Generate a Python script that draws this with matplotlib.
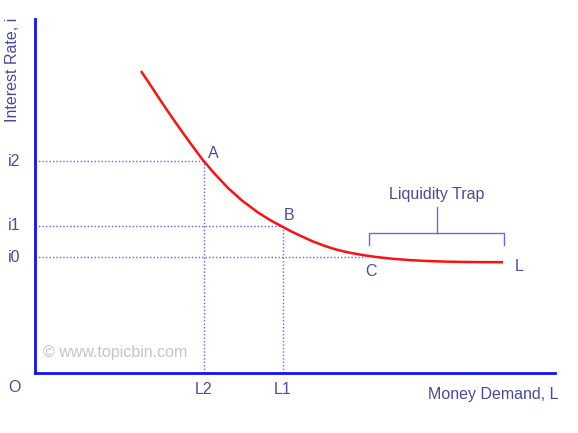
import matplotlib
matplotlib.use("Agg")
import matplotlib.pyplot as plt

plt.rcParams['font.family'] = ['Liberation Sans', 'DejaVu Sans']

# Money demand curve (x: money demand, y: interest rate)
curve_x = [106, 117, 127, 137, 147, 157, 168, 180, 193, 207, 223, 235, 247, 257,
           267, 278, 290, 300, 310, 320, 330, 342, 358, 375, 392, 410, 425, 445, 468]
curve_y = [302, 285.5, 270.3, 255.6, 241.4, 227.6, 212.8, 198.8, 185, 172.5, 160.5,
           153, 146.5, 141.2, 136.5, 131.5, 127, 123.8, 121.3, 119.3, 117.6, 115.9,
           114.2, 112.9, 112.0, 111.4, 111.1, 110.9, 110.8]

# Key levels
rate_labels = ["i2", "i1", "i0"]
rate_values = [212, 147, 116]
demand_labels = ["L2", "L1"]
demand_values = [169, 248]
point_labels = ["A", "B", "C"]
point_x = [169, 248, 330]
point_y = [212, 147, 116]

# Liquidity trap bracket span
trap_x = [334, 469]
trap_y = 140

TXT = '#4a4a9c'
AX = '#1010ff'
DOT = '#6060ff'

fig = plt.figure(figsize=(5.78, 4.33), dpi=100)
ax = fig.add_axes([35/578, 60/433, 520/578, 354/433])
ax.set_xlim(0, 520)
ax.set_ylim(0, 354)
for s in ['top', 'right']:
    ax.spines[s].set_visible(False)
for s in ['left', 'bottom']:
    ax.spines[s].set_color(AX)
    ax.spines[s].set_linewidth(2)
ax.set_xticks([])
ax.set_yticks([])

# dotted guide lines
dot = dict(color=DOT, lw=1, ls=(0, (1, 1.5)), clip_on=False)
for yv, xe in zip(rate_values, point_x):
    ax.plot([0, xe], [yv, yv], **dot)
for xv, yv in zip(demand_values, rate_values[:2]):
    ax.plot([xv, xv], [0, yv], **dot)

# curve
ax.plot(curve_x, curve_y, color='#ff1010', lw=1.8, solid_capstyle='butt',
        solid_joinstyle='round')

fs = 11.5
# tick labels
for lab, yv in zip(rate_labels, rate_values):
    ax.text(-21, yv, lab, color=TXT, fontsize=fs, ha='center', va='center', clip_on=False)
for lab, xv in zip(demand_labels, demand_values):
    ax.text(xv, -17, lab, color=TXT, fontsize=fs, ha='center', va='center', clip_on=False)
ax.text(-21, -15, "O", color=TXT, fontsize=fs, ha='center', va='center', clip_on=False)

# point labels
offs = [(9, 7), (6, 11), (6, -14)]
for lab, xv, yv, (dx, dy) in zip(point_labels, point_x, point_y, offs):
    ax.text(xv + dx, yv + dy, lab, color=TXT, fontsize=fs, ha='center', va='center')
ax.text(curve_x[-1] + 16, curve_y[-1] - 4, "L", color=TXT, fontsize=fs, ha='center', va='center')

# axis titles
ax.text(-22, 303, "Interest Rate, i", color=TXT, fontsize=fs, rotation=90,
        ha='center', va='center', clip_on=False)
ax.text(523, -22, "Money Demand, L", color=TXT, fontsize=fs, ha='right', va='center', clip_on=False)

# liquidity trap bracket
bc = '#6a6ae8'
ax.plot([trap_x[0], trap_x[0], trap_x[1], trap_x[1]],
        [trap_y - 12, trap_y, trap_y, trap_y - 12], color=bc, lw=1)
mid = (trap_x[0] + trap_x[1]) / 2
ax.plot([mid, mid], [trap_y, trap_y + 26], color=bc, lw=1)
ax.text(mid, trap_y + 39, "Liquidity Trap", color=TXT, fontsize=fs, ha='center', va='center')

# watermark
ax.text(8, 20, "© www.topicbin.com", color='#c4c4c4', fontsize=fs, ha='left', va='center')

fig.savefig("out.png", dpi=100)
